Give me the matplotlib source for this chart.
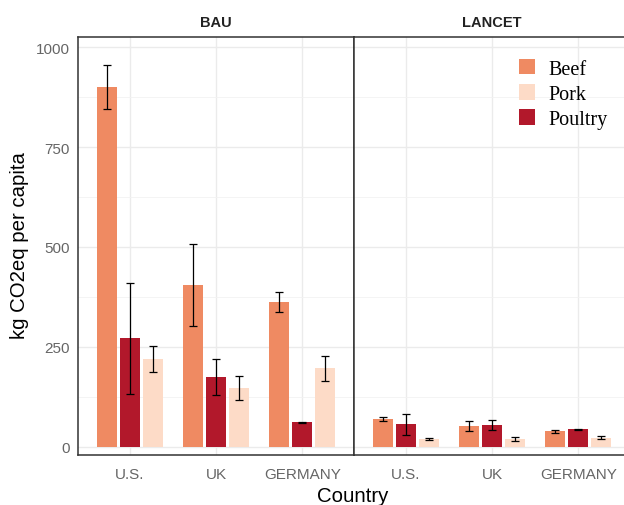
import numpy as np
import matplotlib
matplotlib.use("Agg")
import matplotlib.pyplot as plt
from matplotlib.patches import Patch

plt.rcParams["font.family"] = ["Liberation Sans", "DejaVu Sans"]

countries = ["U.S.", "UK", "GERMANY"]
panels = ["BAU", "LANCET"]

# values per panel, order of countries above
bau_beef = [900, 404, 362]
bau_beef_err = [55, 103, 26]
bau_poultry = [271, 174, 61]
bau_poultry_err = [138, 45, 1]
bau_pork = [220, 147, 196]
bau_pork_err = [32, 31, 31]

lancet_beef = [69, 51, 38]
lancet_beef_err = [4, 12, 3]
lancet_poultry = [56, 54, 43]
lancet_poultry_err = [26, 13, 1]
lancet_pork = [19, 19, 22]
lancet_pork_err = [3, 5, 4]

colors = {"Beef": "#EF8A62", "Pork": "#FDDBC7", "Poultry": "#B2182B"}

data = {
    "BAU": [("Beef", bau_beef, bau_beef_err),
            ("Poultry", bau_poultry, bau_poultry_err),
            ("Pork", bau_pork, bau_pork_err)],
    "LANCET": [("Beef", lancet_beef, lancet_beef_err),
               ("Poultry", lancet_poultry, lancet_poultry_err),
               ("Pork", lancet_pork, lancet_pork_err)],
}

W, H = 624, 506
fig = plt.figure(figsize=(W / 100, H / 100), dpi=100)


def px_axes(x0, y0, x1, y1):
    return fig.add_axes([x0 / W, 1 - y1 / H, (x1 - x0) / W, (y1 - y0) / H])


axes = [px_axes(78, 38, 354, 456), px_axes(354, 38, 630, 456)]
x = np.arange(1, len(countries) + 1)
step = 0.265
width = 0.232

for ax, panel in zip(axes, panels):
    ax.set_xlim(0.4, 3.6)
    ax.set_ylim(-21, 1026)
    ax.set_yticks([0, 250, 500, 750, 1000])
    ax.set_yticks([125, 375, 625, 875], minor=True)
    ax.set_xticks(x)
    ax.grid(True, which="major", color="#EBEBEB", linewidth=1.0)
    ax.grid(True, which="minor", axis="y", color="#F2F2F2", linewidth=0.6)
    ax.set_axisbelow(True)
    ax.tick_params(which="both", length=0, colors="#666666", labelsize=11)
    for s in ax.spines.values():
        s.set_color("#333333")
        s.set_linewidth(1.1)
    for i, (name, vals, errs) in enumerate(data[panel]):
        pos = x + (i - 1) * step
        ax.bar(pos, vals, width=width, color=colors[name], edgecolor="none", zorder=2)
        ax.errorbar(pos, vals, yerr=errs, fmt="none", ecolor="black",
                    elinewidth=0.9, capsize=2.6, capthick=0.9, zorder=3)
    ax.set_xticklabels(countries)
    ax.tick_params(axis="x", pad=9)
    ax.text(0.5, 1 + 15 / 418, panel, transform=ax.transAxes, ha="center",
            va="center", fontsize=10.5, fontweight="bold", color="#222222")

axes[0].tick_params(axis="y", pad=6)
axes[1].tick_params(axis="y", labelleft=False)
axes[1].spines["right"].set_visible(False)

handles = [Patch(facecolor=colors[k], edgecolor="none") for k in ["Beef", "Pork", "Poultry"]]
axes[1].legend(handles, ["Beef", "Pork", "Poultry"], loc="upper left",
               bbox_to_anchor=((511 - 354) / 276, 1 - 14 / 418), frameon=False,
               prop={"family": "Liberation Serif", "size": 14.5},
               handlelength=0.8, handleheight=0.8, handletextpad=0.65,
               labelspacing=0.27, borderaxespad=0)

fig.text(353 / W, 1 - 497 / H, "Country", ha="center", va="center", fontsize=14.7)
fig.text(20 / W, 1 - 246 / H, "kg CO2eq per capita", ha="center", va="center",
         rotation=90, fontsize=14.7)

fig.savefig("out.png", dpi=100)
